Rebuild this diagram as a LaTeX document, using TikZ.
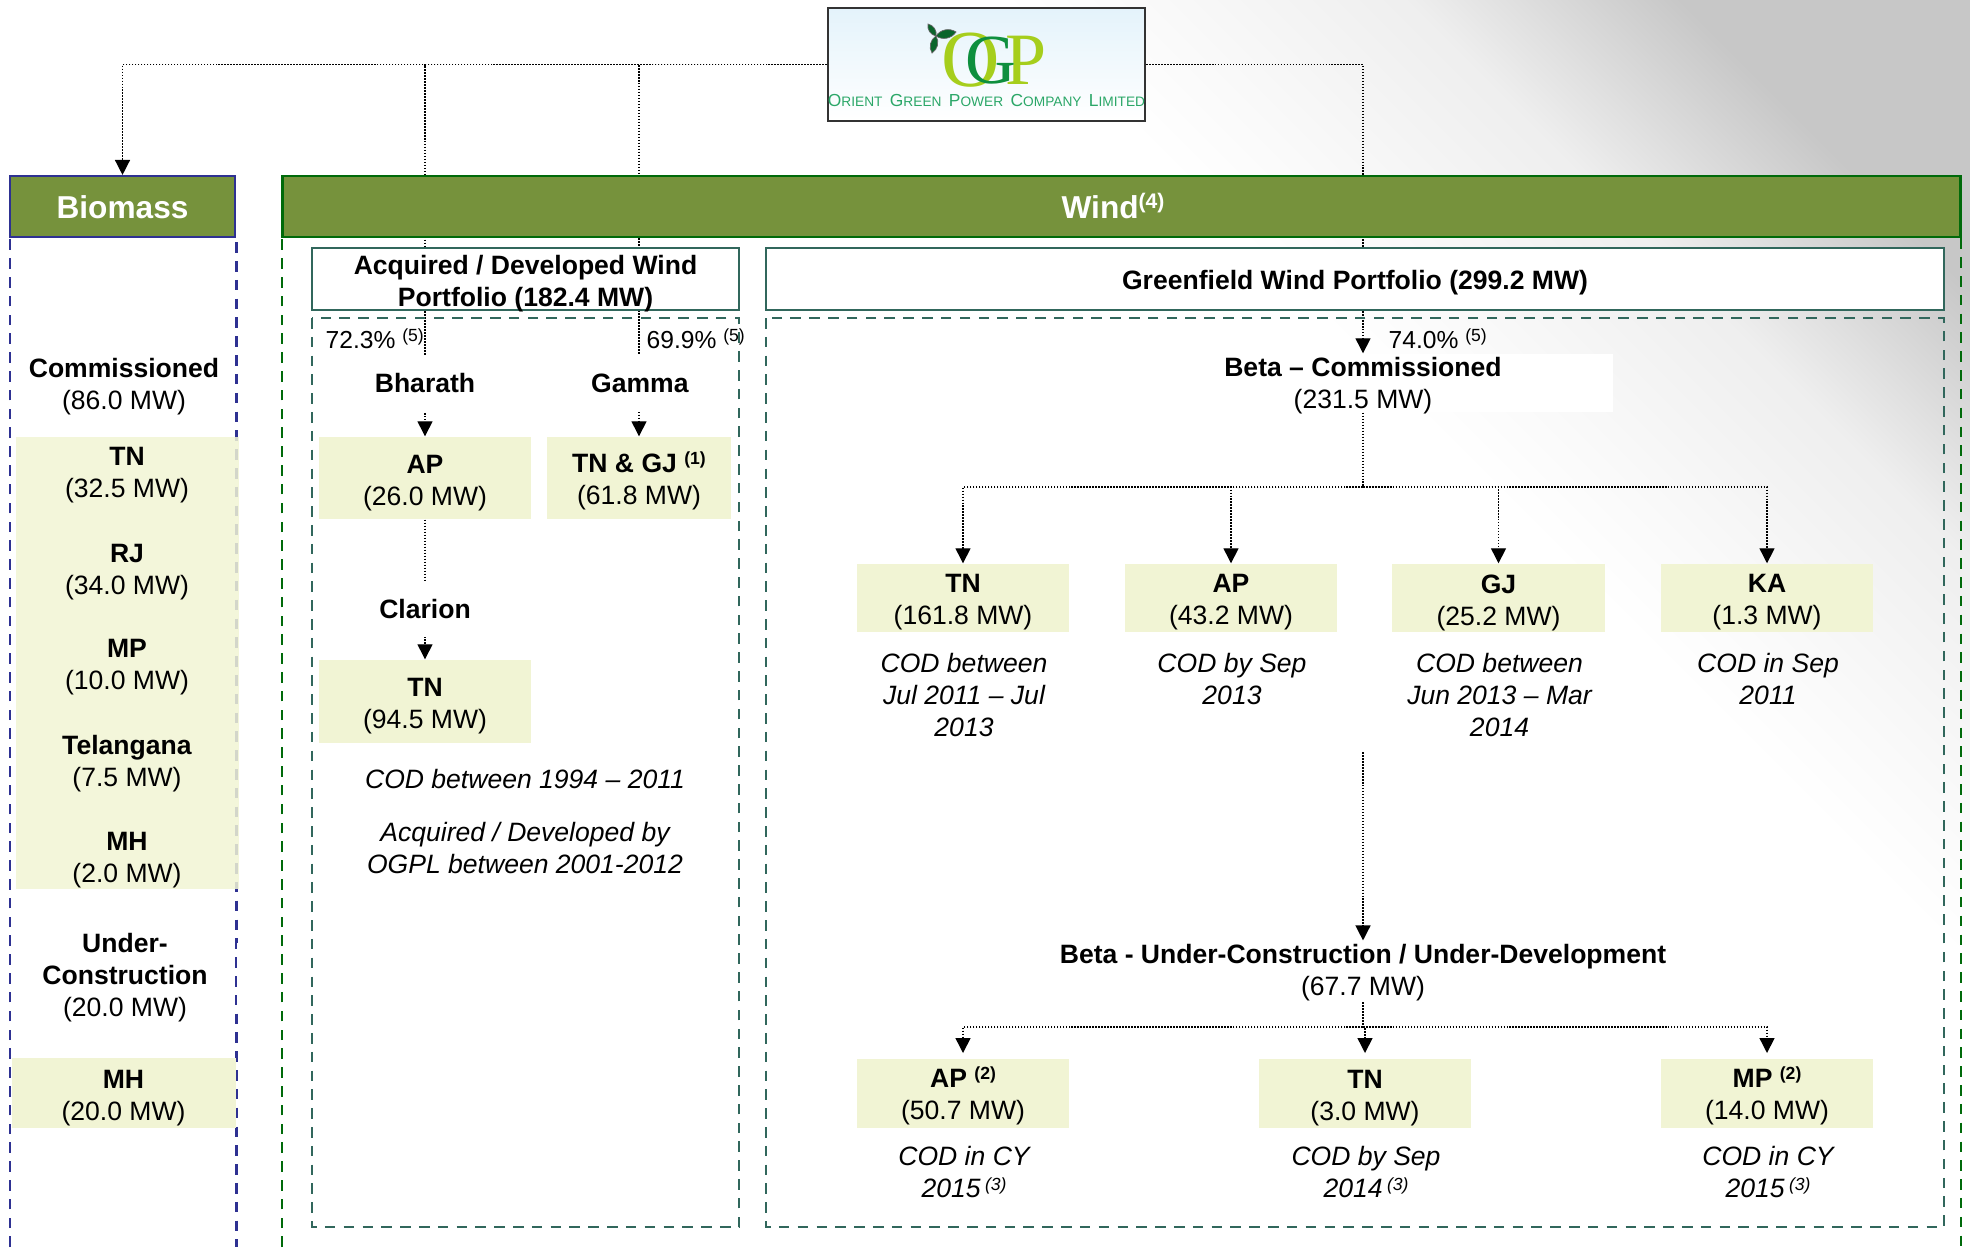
\documentclass[tikz,border=0pt]{standalone}
\usepackage{fontspec}
\setmainfont{Liberation Sans}
\usetikzlibrary{arrows.meta,backgrounds}
\definecolor{headgreen}{HTML}{76923C}
\definecolor{biomassblue}{HTML}{2E3192}
\definecolor{windgreen}{HTML}{006A0A}
\definecolor{tealline}{HTML}{31675C}
\definecolor{stripcol}{HTML}{F1F4D4}
\definecolor{logolime}{HTML}{A6CE1C}
\definecolor{logogreen}{HTML}{0E8F3E}
\definecolor{logotext}{HTML}{2BA768}
\definecolor{logosky}{HTML}{E4F3FB}
\pgfdeclareverticalshading{cornergrey}{100bp}{color(0bp)=(white); color(50bp)=(white); color(55bp)=(black!2); color(65bp)=(black!6.5); color(75bp)=(black!22); color(100bp)=(black!22)}
\newcommand{\supnote}[1]{\raisebox{.55ex}{\fontsize{5}{5}\selectfont(#1)}}
\newcommand{\capw}[2]{{\fontsize{4.95}{6}\selectfont #1}{\fontsize{3.9}{6}\selectfont #2}}
\tikzset{
  link/.style={line width=.4pt,dash pattern=on .45pt off .4pt},
  linkarr/.style={link,-{Triangle[length=1.5mm,width=1.5mm]}},
  head/.style={fill=headgreen,text=white,minimum height=.61cm,font=\fontsize{9}{11}\selectfont\bfseries,line width=.6pt},
  frameb/.style={biomassblue,line width=.7pt,dash pattern=on 3pt off 2.35pt},
  framew/.style={windgreen,line width=.7pt,dash pattern=on 3pt off 2.35pt},
  framet/.style={tealline,line width=.7pt,dash pattern=on 3pt off 2.35pt},
  portbox/.style={draw=tealline,fill=white,line width=.6pt,minimum height=.62cm},
  strip/.style={fill=stripcol},
  gaplbl/.style={fill=white},
  note/.style={font=\fontsize{7.55}{9.1}\selectfont\itshape},
}
\begin{document}
\begin{tikzpicture}[x=0.01cm,y=-0.01cm,every node/.style={font=\fontsize{7.55}{9.1}\selectfont,align=center,inner sep=0pt}]
       \useasboundingbox (0,0) rectangle (1970,1247);
       % logo
       \node[draw=black!80,line width=.6pt,top color=logosky,bottom color=white,minimum width=3.17cm,minimum height=1.13cm] (ogp) at (986.5,64.5) {};
       \node[text=logolime,font=\fontsize{23}{23}\selectfont\fontspec{Liberation Serif}] (ogpo) at (971,60) {O};
       \node[text=logolime,font=\fontsize{21}{21}\selectfont\fontspec{Liberation Serif}] (ogpp) at (1026,60) {P};
       \node[text=logogreen,font=\fontsize{20}{20}\selectfont\fontspec{Liberation Serif}] (ogpg) at (991,61) {G};
       \coordinate (leafroot) at (936,36);
       \foreach \tipx/\tipy in {928/24,956/32,932/53}
          \filldraw[fill=logogreen!70!black,draw=black!60,line width=.2pt] (leafroot) to[bend left=45] (\tipx,\tipy) to[bend left=45] (leafroot);
       \node[text=logotext] (ogpname) at (986.5,100) {\capw{O}{RIENT} \capw{G}{REEN} \capw{P}{OWER} \capw{C}{OMPANY} \capw{L}{IMITED}};
       % headers
       \node[head,draw=biomassblue,minimum width=2.25cm] (biomass) at (122.5,206.5) {};
       \node[text=white,font=\fontsize{9}{11}\selectfont\bfseries] (biomasslbl) at (122.5,207) {Biomass};
       \node[head,draw=windgreen,minimum width=16.77cm] (wind) at (1121.5,206.5) {};
       \node[text=white,font=\fontsize{9}{11}\selectfont\bfseries] (windlbl) at (1113,206) {Wind\raisebox{.6ex}{\fontsize{6}{6}\selectfont(4)}};
       % frames
       \draw[frameb] (10,1247) -- (10,237) -- (236.5,237) -- (236.5,1247);
       \draw[framew] (282,1247) -- (282,237) -- (1961,237) -- (1961,1247);
       \draw[framet] (312,318) rectangle (739,1227);
       \draw[framet] (766,318) rectangle (1944,1227);
       % portfolio titles
       \node[portbox,minimum width=4.27cm] (acquired) at (525.5,279) {};
       \node (acquiredlbl) at (525.5,284) {\textbf{Acquired / Developed Wind}\\\textbf{Portfolio (182.4 MW)}};
       \node[portbox,minimum width=11.78cm] (greenfield) at (1355,279) {};
       \node (greenfieldlbl) at (1355,283) {\textbf{Greenfield Wind Portfolio (299.2 MW)}};
       % biomass column
       \node[strip,fill opacity=.85,minimum width=2.23cm,minimum height=4.52cm] (stripbio) at (127.5,663) {};
       \node (commbio) at (124,386.5) {\textbf{Commissioned}\\(86.0 MW)};
       \foreach \nm/\yy/\hd/\mw in {tnbio/475/TN/32.5,rjbio/572/RJ/34.0,mpbio/667/MP/10.0,tlbio/764/Telangana/7.5,mhbio/860/MH/2.0}
          \node (\nm) at (127,\yy) {\textbf{\hd}\\(\mw{} MW)};
       \fill[white] (236.5,943) rectangle (238.5,1010);
       \node (ucbio) at (125,978) {\textbf{Under-}\\\textbf{Construction}\\(20.0 MW)};
       \node[strip,minimum width=2.24cm,minimum height=.70cm] (mhlow) at (124,1093) {};
       \node (mhlowlbl) at (123.5,1098) {\textbf{MH}\\(20.0 MW)};
       % acquired column
       \node[gaplbl,minimum width=1.7cm,minimum height=.57cm] (bharath) at (425,383) {\textbf{Bharath}};
       \node[gaplbl,minimum width=1.7cm,minimum height=.57cm] (gamma) at (640,383) {\textbf{Gamma}};
       \node[strip,minimum width=2.12cm,minimum height=.82cm] (apbox) at (425,478) {};
       \node (apboxlbl) at (425,483) {\textbf{AP}\\(26.0 MW)};
       \node[strip,minimum width=1.84cm,minimum height=.82cm] (tngj) at (639,478) {};
       \node (tngjlbl) at (639,481) {\textbf{TN \& GJ} \textbf{\supnote{1}}\\(61.8 MW)};
       \node[gaplbl,minimum width=1.7cm,minimum height=.55cm] (clarion) at (425,609) {\textbf{Clarion}};
       \node[strip,minimum width=2.12cm,minimum height=.83cm] (clarionbox) at (425,701.5) {};
       \node (clarionboxlbl) at (425,706) {\textbf{TN}\\(94.5 MW)};
       \node[note] (codacq) at (525,779) {COD between 1994 – 2011};
       \node[note] (devacq) at (525,848) {Acquired / Developed  by\\OGPL between 2001-2012};
       \node[anchor=west] (pctbharath) at (325,339) {\fontsize{7}{8}\selectfont 72.3\% \supnote{5}};
       \node[anchor=west] (pctgamma) at (646,339) {\fontsize{7}{8}\selectfont 69.9\% \supnote{5}};
       % greenfield column
       \begin{pgfonlayer}{background}
          % grey corner of the page
          \shade[shading=cornergrey,shading angle=-45] (1000,0) rectangle (1970,970);
       \end{pgfonlayer}
       \node[fill=white,minimum width=5cm,minimum height=.58cm] (betapatch) at (1363,383) {};
       \node (betacom) at (1363,386) {\textbf{Beta – Commissioned}\\(231.5 MW)};
       \node[anchor=west] (pctbeta) at (1388,339) {\fontsize{7}{8}\selectfont 74.0\% \supnote{5}};
       \foreach \nm/\xx/\hd/\mw/\lnA/\lnB in {tnbeta/963/TN/161.8/COD between\\Jul 2011 – Jul/2013,apbeta/1231/AP/43.2/COD by Sep/2013,gjbeta/1498.5/GJ/25.2/COD between\\Jun 2013 – Mar/2014,kabeta/1767/KA/1.3/COD in Sep/2011}{
          \node[strip,minimum width=2.12cm,minimum height=.68cm] (\nm) at (\xx,598) {};
          \node (\nm lbl) at (\xx,602.5) {\textbf{\hd}\\(\mw{} MW)};
          \node[note,anchor=north] (\nm note) at (\xx+1,653) {\lnA\\\lnB};
       }
       \node (betauc) at (1363,973) {\textbf{Beta - Under-Construction / Under-Development}\\(67.7 MW)};
       \foreach \nm/\xx/\hd/\mw/\yy/\lnA/\lnB in {apuc/963/AP \supnote{2}/50.7/1096/COD in CY/2015,tnuc/1365/TN/3.0/1098.5/COD by Sep/2014,mpuc/1767/MP \supnote{2}/14.0/1096/COD in CY/2015}{
          \node[strip,minimum width=2.12cm,minimum height=.69cm] (\nm) at (\xx,1093.5) {};
          \node (\nm lbl) at (\xx,\yy) {\textbf{\hd}\\(\mw{} MW)};
          \node[note,anchor=north] (\nm note) at (\xx+1,1146) {\lnA\\\lnB\,\supnote{3}};
       }
       % connectors
       \coordinate (betajoin) at (1363,487);
       \coordinate (betagap) at (1363,752);
       \coordinate (ucjoin) at (1363,1027);
       \begin{pgfonlayer}{background}
          \draw[linkarr] (ogp.west) -| (biomass.north);
          \draw[linkarr] (ogp.west) -| (apbox.north);
          \draw[linkarr] (ogp.west) -| (tngj.north);
          \draw[linkarr] (ogp.east) -| (betapatch.north);
          \draw[linkarr] (apbox.south) -- (clarionbox.north);
       \end{pgfonlayer}
       \draw[link] (betapatch.south) -- (betajoin);
       \foreach \kid in {tnbeta,apbeta,gjbeta,kabeta}
          \draw[linkarr] (betajoin) -| (\kid.north);
       \draw[linkarr,shorten >=1pt] (betagap) -- (betauc.north);
       \draw[link] (betauc.south) -- (ucjoin);
       \foreach \kid in {apuc,tnuc,mpuc}
          \draw[linkarr,shorten >=1.5pt] (ucjoin) -| (\kid.north);
\end{tikzpicture}
\end{document}
